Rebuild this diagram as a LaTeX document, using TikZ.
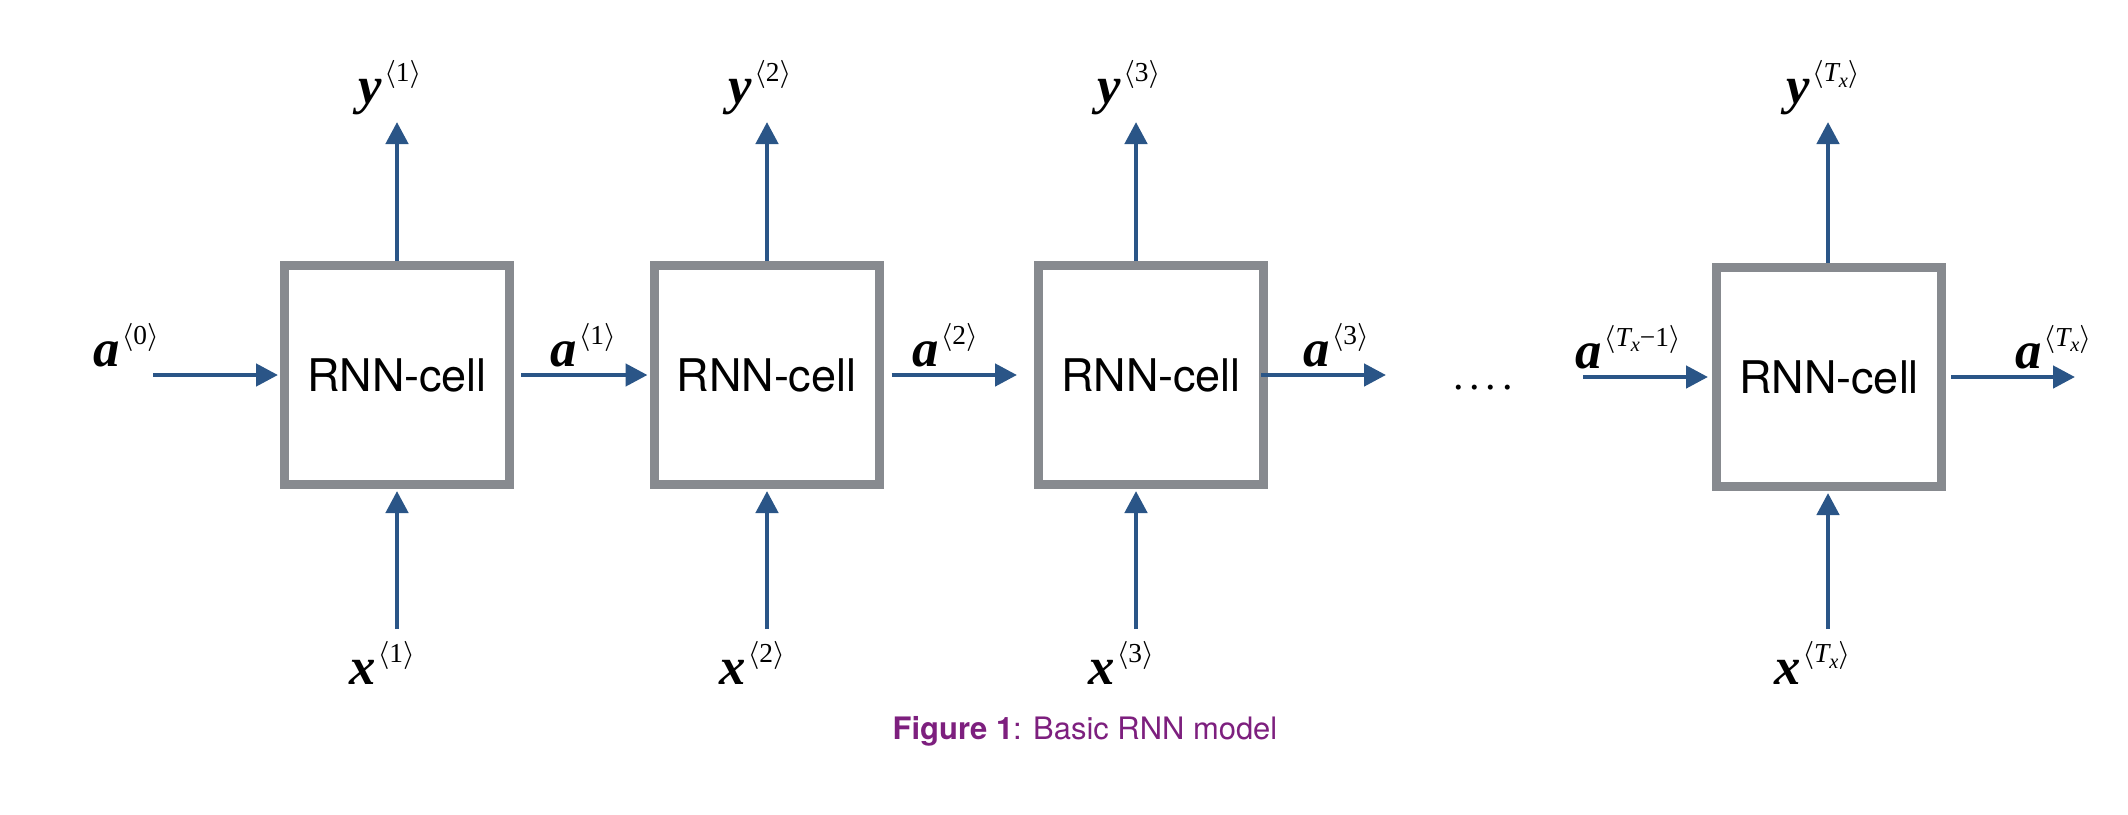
\documentclass[tikz,border=0pt]{standalone}
\usepackage{amsmath,amssymb}
\usepackage{fontspec}
\setmainfont{TeX Gyre Heros}
\newfontfamily\tms{Liberation Serif}
\usepackage{xcolor}
\usepackage{tikz}
\usetikzlibrary{arrows.meta}
\definecolor{rnnblue}{HTML}{2A5587}
\definecolor{rnngray}{HTML}{878A8F}
\definecolor{rnnpurple}{HTML}{7D1F7E}
\newcommand{\tstep}[2]{{\tms\bfseries\itshape #1}\kern0.6pt\raisebox{6.3pt}{\fontsize{7.8}{9}\selectfont$\langle$\tms #2$\rangle$}}
\newcommand{\Tx}{{\itshape T}\raisebox{-1.6pt}{\fontsize{5.8}{6}\selectfont\itshape x}}

\begin{document}
\begin{tikzpicture}[
  cell/.style={rectangle,draw=rnngray,line width=2.56pt,minimum width=2.25cm,minimum height=2.19cm,inner sep=0pt,font=\fontsize{12.8}{15}\selectfont},
  lbl/.style={inner sep=0pt,font=\fontsize{15}{17}\selectfont},
  ar/.style={-{Triangle[length=2.2mm,width=2.2mm]},line width=1.3pt,rnnblue}]
  \useasboundingbox (0,0) rectangle (21.28,-8.14);
  % cells
  \node[cell] (c1) at (3.97,-3.75) {RNN-cell};
  \node[cell] (c2) at (7.665,-3.75) {RNN-cell};
  \node[cell] (c3) at (11.51,-3.75) {RNN-cell};
  \node[cell] (c4) at (18.29,-3.77) {RNN-cell};
  % free ends of the connectors
  \coordinate (o1) at (3.97,-1.22);  \coordinate (i1) at (3.97,-6.29);
  \coordinate (o2) at (7.67,-1.22);  \coordinate (i2) at (7.67,-6.29);
  \coordinate (o3) at (11.36,-1.22); \coordinate (i3) at (11.36,-6.29);
  \coordinate (o4) at (18.28,-1.22); \coordinate (i4) at (18.28,-6.29);
  \coordinate (s0) at (1.53,-3.75);  \coordinate (e3) at (13.86,-3.75);
  \coordinate (sT) at (15.83,-3.77); \coordinate (eT) at (20.75,-3.77);
  % outputs and inputs
  \draw[ar] (c1.north -| o1) -- (o1); \draw[ar,shorten >=0.02cm] (i1) -- (c1.south -| i1);
  \draw[ar] (c2.north -| o2) -- (o2); \draw[ar,shorten >=0.02cm] (i2) -- (c2.south -| i2);
  \draw[ar] (c3.north -| o3) -- (o3); \draw[ar,shorten >=0.02cm] (i3) -- (c3.south -| i3);
  \draw[ar] (c4.north -| o4) -- (o4); \draw[ar,shorten >=0.02cm] (i4) -- (c4.south -| i4);
  % hidden state
  \draw[ar,shorten >=0.02cm] (s0) -- (c1);
  \draw[ar,shorten <=0.07cm,shorten >=0.02cm] (c1) -- (c2);
  \draw[ar,shorten <=0.08cm,shorten >=0.17cm] (c2) -- (c3);
  \draw[ar,shorten <=-0.07cm] (c3) -- (e3);
  \draw[ar,shorten >=0.04cm] (sT) -- (c4);
  \draw[ar,shorten <=0.05cm] (c4) -- (eT);
  % labels
  \node[lbl] (y1) at (3.90,-0.88) {\tstep{y}{1}};
  \node[lbl] (y2) at (7.60,-0.88) {\tstep{y}{2}};
  \node[lbl] (y3) at (11.29,-0.88) {\tstep{y}{3}};
  \node[lbl] (y4) at (18.23,-0.88) {\tstep{y}{\Tx}};
  \node[lbl] (x1) at (3.82,-6.63) {\tstep{x}{1}};
  \node[lbl] (x2) at (7.52,-6.63) {\tstep{x}{2}};
  \node[lbl] (x3) at (11.21,-6.63) {\tstep{x}{3}};
  \node[lbl] (x4) at (18.12,-6.63) {\tstep{x}{\Tx}};
  \node[lbl] (h0) at (1.26,-3.45) {\tstep{a}{0}};
  \node[lbl] (h1) at (5.83,-3.45) {\tstep{a}{1}};
  \node[lbl] (h2) at (9.45,-3.45) {\tstep{a}{2}};
  \node[lbl] (h3) at (13.36,-3.45) {\tstep{a}{3}};
  \node[lbl] (hTm) at (16.28,-3.47) {\tstep{a}{\Tx{}−1}};
  \node[lbl] (hT) at (20.53,-3.47) {\tstep{a}{\Tx}};
  \node[lbl,font=\fontsize{12}{14}\selectfont\tms] (dots) at (14.83,-3.88) {.\kern1.6pt.\kern1.6pt.\kern1.6pt.};
  \node[font=\fontsize{8.8}{10}\selectfont,text=rnnpurple] (cap) at (10.85,-7.31) {\textbf{Figure 1}: Basic RNN model};
\end{tikzpicture}
\end{document}
